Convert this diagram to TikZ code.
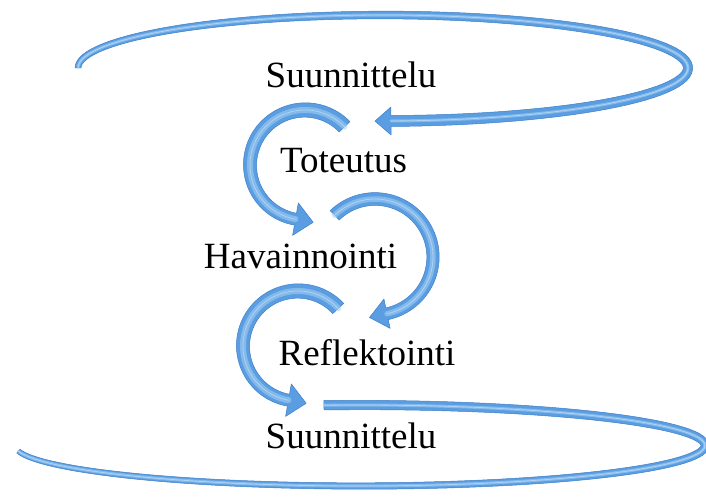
\documentclass[tikz,border=0pt]{standalone}
\usepackage{fontspec}
\setmainfont{Liberation Serif}
\definecolor{tube}{RGB}{90,157,225}
\definecolor{tubedark}{RGB}{62,128,202}
\definecolor{tubelight}{RGB}{168,210,244}

% shape parameters: centre x, centre y, radius a, radius b, start angle, end angle, start width, end width
\newcommand\setshape[8]{\def\cx{#1}\def\cy{#2}\def\ra{#3}\def\rb{#4}\def\tA{#5}\def\tB{#6}\def\wA{#7}\def\wB{#8}}
\def\Wexp{((\wA)+((\wB)-(\wA))*(\t-(\tA))/((\tB)-(\tA)))}
\def\Nexp{sqrt(((\rb)/100*cos(\t))^2+((\ra)/100*sin(\t))^2)}

% #1 head half-width, #2 head length, #3 highlight width
\newcommand\tubeshape[3]{%
  \pgfmathsetmacro\nn{sqrt(((\rb)/100*cos(\tB))^2+((\ra)/100*sin(\tB))^2)}%
  \pgfmathsetmacro\Nx{((\rb)/100*cos(\tB))/\nn}%
  \pgfmathsetmacro\Ny{((\ra)/100*sin(\tB))/\nn}%
  \pgfmathsetmacro\sg{(\tB)>(\tA) ? 1 : -1}%
  \pgfmathsetmacro\Dx{\sg*(-(\ra)/100*sin(\tB))/\nn}%
  \pgfmathsetmacro\Dy{\sg*((\rb)/100*cos(\tB))/\nn}%
  \pgfmathsetmacro\Px{\cx+(\ra)*cos(\tB)}%
  \pgfmathsetmacro\Py{\cy+(\rb)*sin(\tB)}%
  \filldraw[tubeshape] plot[domain=\tA:\tB, samples=90, variable=\t]
     ({\cx+(\ra)*cos(\t)+0.5*\Wexp*((\rb)/100*cos(\t))/\Nexp},
      {\cy+(\rb)*sin(\t)+0.5*\Wexp*((\ra)/100*sin(\t))/\Nexp})
   -- ({\Px+#1*\Nx},{\Py+#1*\Ny})
   -- ({\Px+#2*\Dx},{\Py+#2*\Dy})
   -- ({\Px-#1*\Nx},{\Py-#1*\Ny})
   -- plot[domain=\tB:\tA, samples=90, variable=\t]
     ({\cx+(\ra)*cos(\t)-0.5*\Wexp*((\rb)/100*cos(\t))/\Nexp},
      {\cy+(\rb)*sin(\t)-0.5*\Wexp*((\ra)/100*sin(\t))/\Nexp})
   -- cycle;
  \draw[tubehigh, line width=#3] plot[domain=\tA:\tB, samples=90, variable=\t]
     ({\cx+(\ra)*cos(\t)},{\cy+(\rb)*sin(\t)});
  \draw[tubeshine] plot[domain=\tA:\tB, samples=90, variable=\t]
     ({\cx+(\ra)*cos(\t)},{\cy+(\rb)*sin(\t)});
}

\tikzset{
  tubeshape/.style={fill=tube, draw=tubedark, line width=0.5pt, line join=round},
  tubehigh/.style={draw=tubelight, opacity=0.55, line cap=round},
  tubeshine/.style={draw=white, opacity=0.35, line width=0.8pt, line cap=round},
  lbl/.style={anchor=base, inner sep=0pt, font=\fontsize{37}{44}\selectfont, text=black}
}

\begin{document}
\begin{tikzpicture}[x=1pt, y=-1pt]
\useasboundingbox (0,0) rectangle (706,497);

% top loop
\setshape{383}{68}{305}{53}{180}{448.5}{6}{11}
\tubeshape{14}{16}{3pt}

% circular arrow A (Suunnittelu -> Havainnointi)
\setshape{305}{165}{55}{55}{-44}{-260}{15}{12}
\tubeshape{16.5}{18}{6pt}

% circular arrow B (Toteutus -> Reflektointi)
\setshape{375}{257}{58}{58}{-134}{78}{13}{12}
\tubeshape{15}{18}{5.5pt}

% circular arrow C (Havainnointi -> Suunnittelu)
\setshape{298}{346}{55}{55}{-43}{-260}{15}{12}
\tubeshape{16.5}{18}{6pt}

% bottom loop
\setshape{360}{445.5}{345}{40.5}{264}{532}{9.5}{5}
\tubeshape{0}{0}{3pt}

\node[lbl] (s1) at (351,88) {Suunnittelu};
\node[lbl] (t) at (343.5,172) {Toteutus};
\node[lbl] (h) at (300.5,268) {Havainnointi};
\node[lbl] (r) at (367,365) {Reflektointi};
\node[lbl] (s2) at (351,448) {Suunnittelu};
\end{tikzpicture}
\end{document}
